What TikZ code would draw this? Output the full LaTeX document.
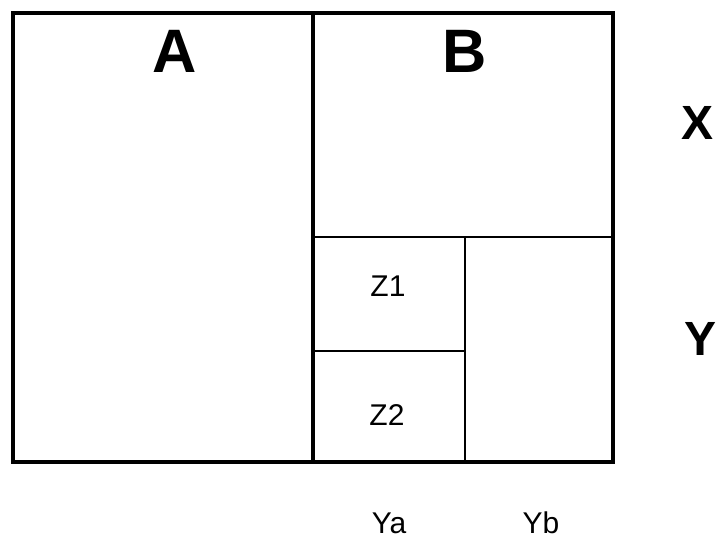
\documentclass[tikz,border=0pt]{standalone}
\usepackage{fontspec}
\setmainfont{Liberation Sans}
\usepackage{tikz}
\usetikzlibrary{positioning}

\begin{document}
\begin{tikzpicture}[x=0.75pt, y=-0.75pt]

% Styles
\tikzstyle{thickline} = [line width=3.6pt, line cap=rect, line join=miter]
\tikzstyle{thinline} = [line width=1.4pt]
\tikzstyle{biglabel} = [anchor=base, inner sep=0pt, font=\fontsize{46}{46}\selectfont\bfseries]
\tikzstyle{sidelabel} = [anchor=base, inner sep=0pt, font=\fontsize{36}{36}\selectfont\bfseries]
\tikzstyle{smalllabel} = [anchor=base, inner sep=0pt, font=\fontsize{22.5}{22.5}\selectfont]

\useasboundingbox (0,0) rectangle (719,540);

% Corners
\coordinate (tl) at (13,13);
\coordinate (br) at (613,462);
\coordinate (midtop) at (313,13);
\coordinate (midbot) at (313,462);
\coordinate (splitl) at (313,237);
\coordinate (splitr) at (613,237);
\coordinate (yatop) at (465,237);
\coordinate (yabot) at (465,462);
\coordinate (zl) at (313,351);
\coordinate (zr) at (465,351);

% Frame
\draw[thinline] (splitl) -- (splitr);
\draw[thinline] (yatop) -- (yabot);
\draw[thinline] (zl) -- (zr);
\draw[thickline] (tl) rectangle (br);
\draw[thickline] (midtop) -- (midbot);

% Labels
\node[biglabel] (a) at (175,72) {A};
\node[biglabel] (b) at (465,72) {B};
\node[sidelabel] (x) at (698,139) {X};
\node[sidelabel] (y) at (701,355) {Y};
\node[smalllabel] (z1) at (388,296) {Z1};
\node[smalllabel] (z2) at (387,425) {Z2};
\node[smalllabel] (ya) at (389,533) {Ya};
\node[smalllabel] (yb) at (541,533) {Yb};

\end{tikzpicture}
\end{document}
